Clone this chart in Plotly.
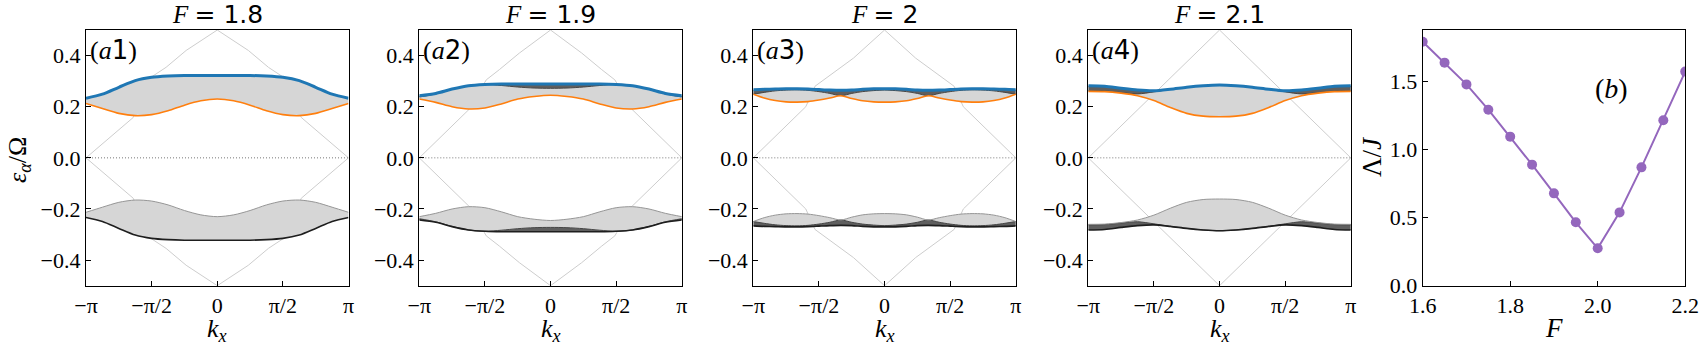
import numpy as np
import plotly.graph_objects as go
from plotly.subplots import make_subplots

PI = np.pi

# ---- band-edge data (kx in units of pi, left half; bands are symmetric)
titles = ["1.8", "1.9", "2", "2.1"]
tags = ["1", "2", "3", "4"]

k_a1 = [-1, -0.875, -0.75, -0.625, -0.5, -0.375, -0.25, -0.125, 0]
top_a1 = [0.233, 0.249, 0.276, 0.302, 0.315, 0.320, 0.322, 0.322, 0.322]
bot_a1 = [0.213, 0.193, 0.174, 0.165, 0.169, 0.184, 0.206, 0.223, 0.230]
dark_a1 = None

k_a2 = [-1, -0.875, -0.75, -0.625, -0.5, -0.375, -0.25, -0.125, 0]
top_a2 = [0.243, 0.252, 0.269, 0.282, 0.287, 0.289, 0.289, 0.289, 0.289]
bot_a2 = [0.230, 0.217, 0.200, 0.191, 0.195, 0.211, 0.230, 0.240, 0.245]
dark_a2 = [0.238, 0.250, 0.268, 0.282, 0.287, 0.283, 0.277, 0.273, 0.272]

k_a3 = [-1, -0.917, -0.833, -0.75, -0.667, -0.583, -0.5, -0.417, -0.333, -0.25, -0.167, -0.083, 0]
top_a3 = [0.266, 0.268, 0.269, 0.270, 0.270, 0.269, 0.267, 0.265, 0.264, 0.265, 0.268, 0.270, 0.270]
bot_a3 = [0.249, 0.234, 0.224, 0.219, 0.218, 0.220, 0.226, 0.234, 0.243, 0.232, 0.223, 0.219, 0.218]
dark_a3 = [0.249, 0.256, 0.262, 0.265, 0.266, 0.264, 0.259, 0.252, 0.243, 0.252, 0.259, 0.263, 0.265]

k_a4 = [-1, -0.875, -0.75, -0.625, -0.5, -0.375, -0.25, -0.125, 0]
top_a4 = [0.282, 0.280, 0.272, 0.265, 0.262, 0.268, 0.276, 0.282, 0.285]
bot_a4 = [0.260, 0.259, 0.253, 0.243, 0.224, 0.197, 0.174, 0.163, 0.161]
dark_a4 = [0.262, 0.261, 0.255, 0.250, 0.258, 0.268, 0.276, 0.282, 0.285]

# light "bare" lines (upper-left branch)
ll_k_a1 = [-1, -0.85, -0.64, -0.52, -0.39, -0.237, 0]
ll_e_a1 = [0.0, 0.065, 0.158, 0.31, 0.354, 0.42, 0.5]
ll_k_a2 = [-1, -0.62, -0.49, -0.39, -0.237, 0]
ll_e_a2 = [0.0, 0.19, 0.305, 0.345, 0.41, 0.5]
ll_k_a3 = [-1, -0.6, -0.53, -0.237, 0]
ll_e_a3 = [0.0, 0.2, 0.28, 0.39, 0.5]
ll_k_a4 = [-1, 0]
ll_e_a4 = [0.0, 0.5]

# panel (b)
F_vals = [1.6, 1.65, 1.7, 1.75, 1.8, 1.85, 1.9, 1.95, 2.0, 2.05, 2.1, 2.15, 2.2]
Lam = [1.794, 1.640, 1.480, 1.294, 1.096, 0.890, 0.679, 0.466, 0.275, 0.539, 0.870, 1.216, 1.574]

panels = [
    (k_a1, top_a1, bot_a1, dark_a1, ll_k_a1, ll_e_a1),
    (k_a2, top_a2, bot_a2, dark_a2, ll_k_a2, ll_e_a2),
    (k_a3, top_a3, bot_a3, dark_a3, ll_k_a3, ll_e_a3),
    (k_a4, top_a4, bot_a4, dark_a4, ll_k_a4, ll_e_a4),
]

BLUE = "#1f77b4"
ORANGE = "#ff7f0e"
PURPLE = "#9467bd"
LIGHT = "rgb(214,214,214)"
DARK = "rgb(95,95,95)"
SERIF = "Liberation Serif, DejaVu Serif, serif"

W, H = 1700, 350
left_px = [86, 419.3, 753.3, 1088.3, 1422.7]
width_px = 262.5
top_px, bot_px = 30, 285.7


def mirror(k, v):
    kk = [x * PI for x in k] + [-x * PI for x in reversed(k[:-1])]
    vv = list(v) + list(reversed(v[:-1]))
    return kk, vv


fig = make_subplots(rows=1, cols=5)

SPL = dict(shape="spline", smoothing=0.8)

for i, (k, top, bot, dark, llk, lle) in enumerate(panels):
    c = i + 1
    # light lines (diamond-like)
    xs, ys = [], []
    for sx in (1, -1):
        for sy in (1, -1):
            xs += [sx * x * PI for x in llk] + [None]
            ys += [sy * e for e in lle] + [None]
    fig.add_trace(go.Scatter(x=xs, y=ys, mode="lines",
                             line=dict(color="rgb(205,205,205)", width=1)), row=1, col=c)
    fig.add_trace(go.Scatter(x=[-PI, PI], y=[0, 0], mode="lines",
                             line=dict(color="rgb(120,120,120)", width=1, dash="1px,2px")), row=1, col=c)

    kk, tt = mirror(k, top)
    _, bb = mirror(k, bot)
    for sgn in (1, -1):
        t_ = [sgn * v for v in tt]
        b_ = [sgn * v for v in bb]
        fig.add_trace(go.Scatter(x=kk, y=b_, mode="lines", line=dict(width=0, **SPL)), row=1, col=c)
        fig.add_trace(go.Scatter(x=kk, y=t_, mode="lines", fill="tonexty", fillcolor=LIGHT,
                                 line=dict(width=0, **SPL)), row=1, col=c)
        if dark is not None:
            _, dd = mirror(k, dark)
            d_ = [sgn * v for v in dd]
            fig.add_trace(go.Scatter(x=kk, y=d_, mode="lines", line=dict(width=0, **SPL)), row=1, col=c)
            fig.add_trace(go.Scatter(x=kk, y=t_, mode="lines", fill="tonexty", fillcolor=DARK,
                                     line=dict(width=0, **SPL)), row=1, col=c)
            fig.add_trace(go.Scatter(x=kk, y=d_, mode="lines",
                                     line=dict(color="rgb(70,70,70)", width=1, **SPL)), row=1, col=c)
    # edge lines
    fig.add_trace(go.Scatter(x=kk, y=[-v for v in bb], mode="lines",
                             line=dict(color="rgb(150,150,150)", width=1, **SPL)), row=1, col=c)
    fig.add_trace(go.Scatter(x=kk, y=[-v for v in tt], mode="lines",
                             line=dict(color="rgb(30,30,30)", width=1.6, **SPL)), row=1, col=c)
    fig.add_trace(go.Scatter(x=kk, y=bb, mode="lines",
                             line=dict(color=ORANGE, width=1.6, **SPL)), row=1, col=c)
    fig.add_trace(go.Scatter(x=kk, y=tt, mode="lines",
                             line=dict(color=BLUE, width=3, **SPL)), row=1, col=c)

fig.add_trace(go.Scatter(x=F_vals, y=Lam, mode="lines+markers",
                         line=dict(color=PURPLE, width=2),
                         marker=dict(color=PURPLE, size=10)), row=1, col=5)

ax_common = dict(showline=True, linecolor="black", linewidth=1.2, mirror=True,
                 ticks="inside", ticklen=5, tickwidth=1, tickcolor="black",
                 showgrid=False, zeroline=False, automargin=False,
                 tickfont=dict(family=SERIF, size=22, color="black"))

for i in range(5):
    xd = [left_px[i] / W, (left_px[i] + width_px) / W]
    yd = [1 - bot_px / H, 1 - top_px / H]
    xa = "xaxis" if i == 0 else f"xaxis{i+1}"
    ya = "yaxis" if i == 0 else f"yaxis{i+1}"
    if i < 4:
        fig.update_layout({
            xa: dict(domain=xd, range=[-PI, PI],
                     tickvals=[-PI, -PI / 2, 0, PI / 2, PI],
                     ticktext=["−π", "−π/2", "0", "π/2", "π"], **ax_common),
            ya: dict(domain=yd, range=[-0.5, 0.5],
                     tickvals=[-0.4, -0.2, 0, 0.2, 0.4],
                     ticktext=["−0.4", "−0.2", "0.0", "0.2", "0.4"], **ax_common),
        })
    else:
        fig.update_layout({
            xa: dict(domain=xd, range=[1.6, 2.2], tickvals=[1.6, 1.8, 2.0, 2.2],
                     ticktext=["1.6", "1.8", "2.0", "2.2"], **ax_common),
            ya: dict(domain=yd, range=[0, 1.88], tickvals=[0, 0.5, 1.0, 1.5],
                     ticktext=["0.0", "0.5", "1.0", "1.5"], **ax_common),
        })

ann = []


def px_ann(text, x, y, size, xanchor="center", angle=0, family=SERIF):
    ann.append(dict(text=text, x=x / W, y=1 - y / H, xref="paper", yref="paper",
                    xanchor=xanchor, yanchor="middle", showarrow=False, textangle=angle,
                    font=dict(family=family, size=size, color="black")))


SANS_SPAN = "<span style='font-family:DejaVu Sans'>{}</span>"

for i in range(4):
    cx = left_px[i] + width_px / 2
    px_ann("<i>F</i> " + SANS_SPAN.format("= " + titles[i]), cx, 15, 25)
    px_ann("(<i>a</i>" + SANS_SPAN.format(tags[i]) + ")", left_px[i] + 2, 50, 26, xanchor="left")
    px_ann("<i>k</i><sub><i>x</i></sub>", cx, 330, 26)

px_ann("<i>ε</i><sub><i>α</i></sub>/Ω", 19, 160, 26, angle=-90)
px_ann("Λ/<i>J</i>", 1372, 157, 27, angle=-90)
px_ann("<i>F</i>", left_px[4] + width_px / 2, 328, 27)
px_ann("(<i>b</i>)", 1611, 88, 28)

fig.update_layout(width=W, height=H, margin=dict(l=0, r=0, t=0, b=0, autoexpand=False),
                  plot_bgcolor="white", paper_bgcolor="white",
                  showlegend=False, annotations=ann)

fig.write_html("out.html", config={"displayModeBar": False},
               post_script="document.body.style.margin='0';")
